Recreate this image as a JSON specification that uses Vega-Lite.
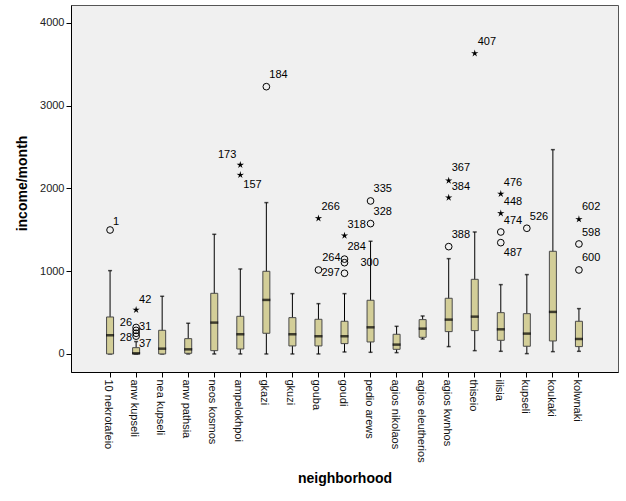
{
  "$schema": "https://vega.github.io/schema/vega-lite/v6.json",
  "width": 547,
  "height": 367,
  "autosize": "none",
  "padding": {"left": 71, "top": 5, "right": 8, "bottom": 129},
  "background": "white",
  "datasets": {
    "stats": [
      {"n": "10 nekrotafeio", "lo": 0, "q1": 0, "med": 226, "q3": 447, "hi": 1007},
      {"n": "anw kupseli", "lo": 0, "q1": 0, "med": 8, "q3": 76, "hi": 150},
      {"n": "nea kupseli", "lo": 0, "q1": 0, "med": 64, "q3": 286, "hi": 697},
      {"n": "anw pathsia", "lo": 0, "q1": 8, "med": 56, "q3": 185, "hi": 371},
      {"n": "neos kosmos", "lo": 0, "q1": 40, "med": 379, "q3": 733, "hi": 1446},
      {"n": "ampelokhpoi", "lo": 0, "q1": 60, "med": 238, "q3": 455, "hi": 1027},
      {"n": "gkazi", "lo": 0, "q1": 250, "med": 653, "q3": 999, "hi": 1829},
      {"n": "gkuzi", "lo": 0, "q1": 97, "med": 238, "q3": 439, "hi": 729},
      {"n": "gouba", "lo": 0, "q1": 97, "med": 214, "q3": 419, "hi": 608},
      {"n": "goudi", "lo": 24, "q1": 125, "med": 214, "q3": 395, "hi": 729},
      {"n": "pedio arews", "lo": 20, "q1": 145, "med": 322, "q3": 649, "hi": 1362},
      {"n": "agios nikolaos", "lo": 16, "q1": 56, "med": 113, "q3": 238, "hi": 334},
      {"n": "agios eleutherios", "lo": 181, "q1": 201, "med": 306, "q3": 415, "hi": 459},
      {"n": "agios kwnhos", "lo": 89, "q1": 270, "med": 415, "q3": 673, "hi": 1152},
      {"n": "thiseio", "lo": 40, "q1": 282, "med": 451, "q3": 902, "hi": 1474},
      {"n": "ilisia", "lo": 32, "q1": 165, "med": 298, "q3": 499, "hi": 838},
      {"n": "kupseli", "lo": 4, "q1": 93, "med": 246, "q3": 487, "hi": 959},
      {"n": "koukaki", "lo": 28, "q1": 157, "med": 508, "q3": 1241, "hi": 2469},
      {"n": "kolwnaki", "lo": 32, "q1": 89, "med": 181, "q3": 395, "hi": 548}
    ],
    "outliers": [
      {"n": "10 nekrotafeio", "v": 1498, "kind": "o"},
      {"n": "anw kupseli", "v": 532, "kind": "*"},
      {"n": "anw kupseli", "v": 320, "kind": "o"},
      {"n": "anw kupseli", "v": 285, "kind": "o"},
      {"n": "anw kupseli", "v": 250, "kind": "o"},
      {"n": "anw kupseli", "v": 215, "kind": "o"},
      {"n": "ampelokhpoi", "v": 2284, "kind": "*"},
      {"n": "ampelokhpoi", "v": 2163, "kind": "*"},
      {"n": "gkazi", "v": 3230, "kind": "o"},
      {"n": "gouba", "v": 1640, "kind": "*"},
      {"n": "gouba", "v": 1015, "kind": "o"},
      {"n": "goudi", "v": 1430, "kind": "*"},
      {"n": "goudi", "v": 1146, "kind": "o"},
      {"n": "goudi", "v": 1103, "kind": "o"},
      {"n": "goudi", "v": 975, "kind": "o"},
      {"n": "pedio arews", "v": 1849, "kind": "o"},
      {"n": "pedio arews", "v": 1575, "kind": "o"},
      {"n": "agios kwnhos", "v": 2094, "kind": "*"},
      {"n": "agios kwnhos", "v": 1889, "kind": "*"},
      {"n": "agios kwnhos", "v": 1297, "kind": "o"},
      {"n": "thiseio", "v": 3633, "kind": "*"},
      {"n": "ilisia", "v": 1934, "kind": "*"},
      {"n": "ilisia", "v": 1700, "kind": "*"},
      {"n": "ilisia", "v": 1474, "kind": "o"},
      {"n": "ilisia", "v": 1345, "kind": "o"},
      {"n": "kupseli", "v": 1519, "kind": "o"},
      {"n": "kolwnaki", "v": 1628, "kind": "*"},
      {"n": "kolwnaki", "v": 1329, "kind": "o"},
      {"n": "kolwnaki", "v": 1015, "kind": "o"}
    ],
    "labels": [
      {"n": "10 nekrotafeio", "id": "1", "at": 1599, "side": "R"},
      {"n": "anw kupseli", "id": "42", "at": 653, "side": "R"},
      {"n": "anw kupseli", "id": "26", "at": 375, "side": "L"},
      {"n": "anw kupseli", "id": "31", "at": 330, "side": "R"},
      {"n": "anw kupseli", "id": "28", "at": 193, "side": "L"},
      {"n": "anw kupseli", "id": "37", "at": 121, "side": "R"},
      {"n": "ampelokhpoi", "id": "173", "at": 2405, "side": "L"},
      {"n": "ampelokhpoi", "id": "157", "at": 2042, "side": "R"},
      {"n": "gkazi", "id": "184", "at": 3372, "side": "R"},
      {"n": "gouba", "id": "266", "at": 1780, "side": "R"},
      {"n": "gouba", "id": "297", "at": 982, "side": "R"},
      {"n": "goudi", "id": "318", "at": 1559, "side": "R"},
      {"n": "goudi", "id": "284", "at": 1297, "side": "R"},
      {"n": "goudi", "id": "264", "at": 1160, "side": "L"},
      {"n": "goudi", "id": "300", "at": 1100, "side": "F"},
      {"n": "pedio arews", "id": "335", "at": 1990, "side": "R"},
      {"n": "pedio arews", "id": "328", "at": 1712, "side": "R"},
      {"n": "agios kwnhos", "id": "367", "at": 2244, "side": "R"},
      {"n": "agios kwnhos", "id": "384", "at": 2022, "side": "R"},
      {"n": "agios kwnhos", "id": "388", "at": 1438, "side": "R"},
      {"n": "thiseio", "id": "407", "at": 3774, "side": "R"},
      {"n": "ilisia", "id": "476", "at": 2063, "side": "R"},
      {"n": "ilisia", "id": "448", "at": 1833, "side": "R"},
      {"n": "ilisia", "id": "474", "at": 1607, "side": "R"},
      {"n": "ilisia", "id": "487", "at": 1224, "side": "R"},
      {"n": "kupseli", "id": "526", "at": 1652, "side": "R"},
      {"n": "kolwnaki", "id": "602", "at": 1780, "side": "R"},
      {"n": "kolwnaki", "id": "598", "at": 1459, "side": "R"},
      {"n": "kolwnaki", "id": "600", "at": 1156, "side": "R"}
    ]
  },
  "encoding": {
    "x": {
      "field": "n",
      "type": "nominal",
      "sort": ["10 nekrotafeio", "anw kupseli", "nea kupseli", "anw pathsia", "neos kosmos", "ampelokhpoi", "gkazi", "gkuzi", "gouba", "goudi", "pedio arews", "agios nikolaos", "agios eleutherios", "agios kwnhos", "thiseio", "ilisia", "kupseli", "koukaki", "kolwnaki"],
      "scale": {"type": "band", "paddingInner": 0, "paddingOuter": 1.05},
      "axis": {
        "title": "neighborhood",
        "labelAngle": 90,
        "labelAlign": "left",
        "labelBaseline": "middle",
        "labelOffset": -2,
        "labelPadding": 2,
        "labelFont": "Liberation Sans",
        "labelFontSize": 11,
        "labelColor": "#111",
        "tickSize": 5,
        "tickColor": "#000",
        "domainColor": "#000",
        "titleFont": "Liberation Sans",
        "titleFontSize": 14,
        "titleFontWeight": "bold",
        "titleColor": "#000",
        "titleX": 273.5,
        "titleY": 106,
        "titleAlign": "center",
        "titleBaseline": "middle"
      }
    }
  },
  "layer": [
    {
      "data": {"name": "stats"},
      "mark": {"type": "rule", "color": "#000", "strokeWidth": 1},
      "encoding": {
        "y": {"field": "lo", "type": "quantitative", "scale": {"domain": [-218, 4217], "nice": false, "zero": false},
          "axis": {
            "title": "income/month",
            "values": [0, 1000, 2000, 3000, 4000],
            "format": "d",
            "grid": false,
            "tickSize": 5,
            "tickColor": "#000",
            "domainColor": "#000",
            "labelFont": "Liberation Sans",
            "labelFontSize": 11,
            "labelColor": "#222",
            "labelPadding": 2,
            "titleFont": "Liberation Sans",
            "titleFontSize": 14,
            "titleFontWeight": "bold",
            "titleColor": "#000",
            "titleX": -49,
            "titleY": 178,
            "titleAngle": -90,
            "titleAlign": "center",
            "titleBaseline": "middle"
          }
        },
        "y2": {"field": "hi"}
      }
    },
    {
      "data": {"name": "stats"},
      "mark": {"type": "tick", "color": "#000", "size": 4, "thickness": 1.5, "orient": "horizontal"},
      "encoding": {"y": {"field": "hi", "type": "quantitative"}}
    },
    {
      "data": {"name": "stats"},
      "mark": {"type": "tick", "color": "#000", "size": 4, "thickness": 1.5, "orient": "horizontal"},
      "encoding": {"y": {"field": "lo", "type": "quantitative"}}
    },
    {
      "data": {"name": "stats"},
      "mark": {"type": "bar", "size": 7, "fill": "#d3ce98", "stroke": "#4a4a4a", "strokeWidth": 1},
      "encoding": {"y": {"field": "q1", "type": "quantitative"}, "y2": {"field": "q3"}}
    },
    {
      "data": {"name": "stats"},
      "mark": {"type": "tick", "color": "#000", "size": 8, "thickness": 2.5, "orient": "horizontal"},
      "encoding": {"y": {"field": "med", "type": "quantitative"}}
    },
    {
      "data": {"name": "outliers"},
      "transform": [{"filter": "datum.kind === 'o'"}],
      "mark": {"type": "point", "shape": "circle", "filled": false, "size": 45, "stroke": "#000", "strokeWidth": 1, "opacity": 1},
      "encoding": {"y": {"field": "v", "type": "quantitative"}}
    },
    {
      "data": {"name": "outliers"},
      "transform": [{"filter": "datum.kind === '*'"}],
      "mark": {"type": "point", "shape": "M0,-1L0.2,-0.28L0.951,-0.309L0.33,0.11L0.588,0.809L0,0.36L-0.588,0.809L-0.33,0.11L-0.951,-0.309L-0.2,-0.28Z", "filled": true, "size": 60, "fill": "#000", "opacity": 1},
      "encoding": {"y": {"field": "v", "type": "quantitative"}}
    },
    {
      "data": {"name": "labels"},
      "transform": [{"filter": "datum.side === 'R'"}],
      "mark": {"type": "text", "align": "left", "baseline": "middle", "dx": 3, "font": "Liberation Sans", "fontSize": 11, "color": "#000"},
      "encoding": {"y": {"field": "at", "type": "quantitative"}, "text": {"field": "id"}}
    },
    {
      "data": {"name": "labels"},
      "transform": [{"filter": "datum.side === 'F'"}],
      "mark": {"type": "text", "align": "left", "baseline": "middle", "dx": 16, "font": "Liberation Sans", "fontSize": 11, "color": "#000"},
      "encoding": {"y": {"field": "at", "type": "quantitative"}, "text": {"field": "id"}}
    },
    {
      "data": {"name": "labels"},
      "transform": [{"filter": "datum.side === 'L'"}],
      "mark": {"type": "text", "align": "right", "baseline": "middle", "dx": -4, "font": "Liberation Sans", "fontSize": 11, "color": "#000"},
      "encoding": {"y": {"field": "at", "type": "quantitative"}, "text": {"field": "id"}}
    }
  ],
  "config": {
    "view": {"fill": "#f0f0f0", "stroke": "#555"}
  }
}
